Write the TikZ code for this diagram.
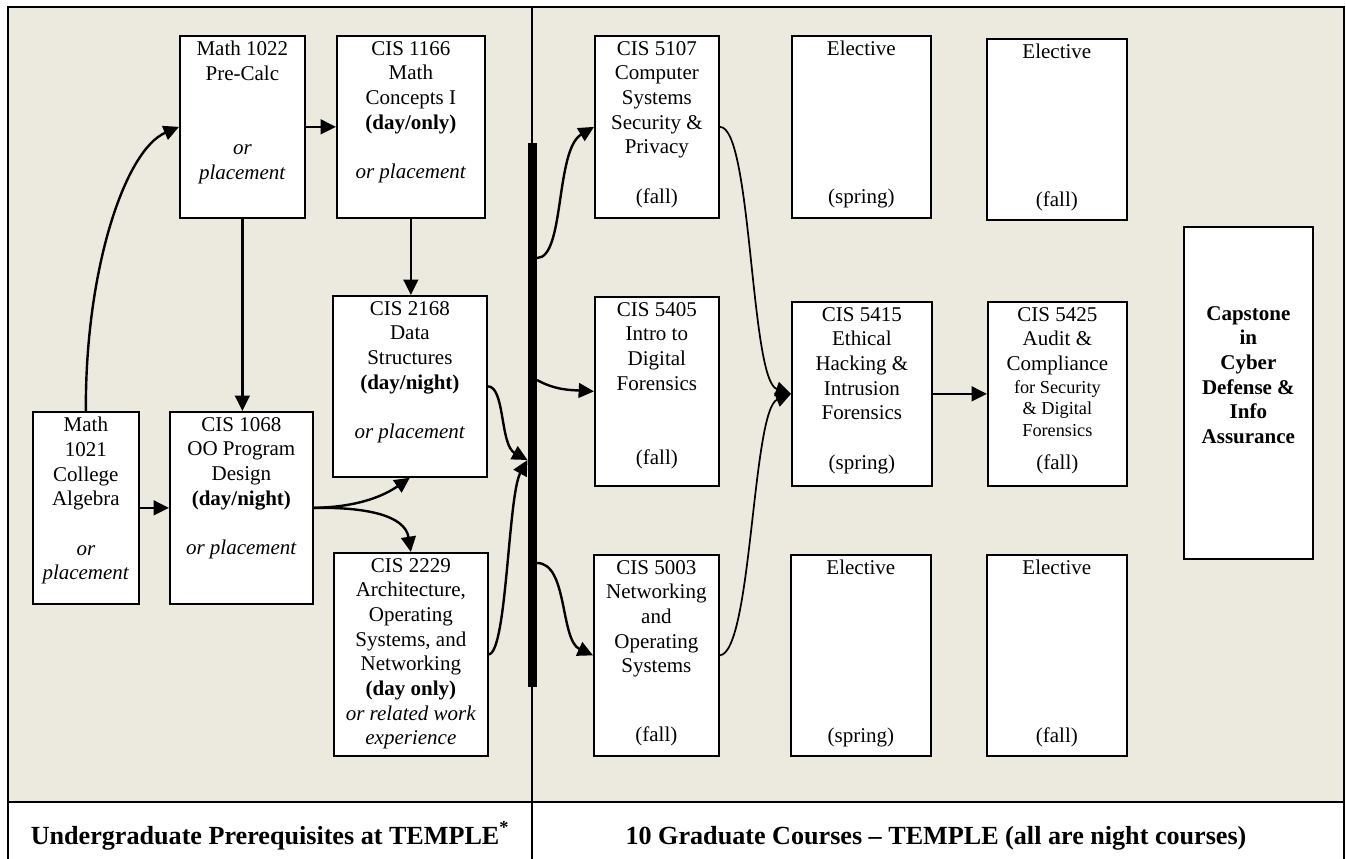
\documentclass[tikz,border=0pt]{standalone}
\usepackage{fontspec}
\setmainfont{Liberation Serif}
\usetikzlibrary{arrows.meta,calc}
\definecolor{bgbeige}{RGB}{236,233,222}
\tikzset{
  box/.style={draw=black, fill=white, line width=1.3pt, inner sep=0pt, anchor=north west},
  txt/.style={align=center, inner sep=0pt, font=\fontsize{15.75}{18.5}\selectfont},
  lbl/.style={inner sep=0pt, font=\fontsize{19.6}{23}\selectfont\bfseries},
  arr/.style={line width=1.8pt, -{Triangle[length=11.5pt,width=11pt]}},
  arrthin/.style={line width=1.3pt, -{Triangle[length=11.5pt,width=11pt]}},
  framel/.style={line width=1.5pt},
}
\newcommand{\course}[6]{%
  \node[box, minimum width={(#4-#2)*0.75pt}, minimum height={(#5-#3)*0.75pt}] (#1) at (#2,#3) {};
  \node[txt, anchor=north] (#1t) at ($(#1.north)+(0,6)$) {#6};
}
\begin{document}
\begin{tikzpicture}[x=0.75pt,y=-0.75pt]
\useasboundingbox (0,0) rectangle (1346,859);
\fill[bgbeige] (7.5,7.5) rectangle (1343.5,802);
\draw[framel] (7.5,859) -- (7.5,7.5) -- (1343.5,7.5) -- (1343.5,859);
\draw[line width=1.2pt] (7.5,802) -- (1343.5,802);
\draw[line width=1.2pt] (532,7.5) -- (532,859);

% undergraduate courses
\course{m1021}{32}{411}{138}{603}{Math\\1021\\College\\Algebra\\[18.5pt]\textit{or}\\\textit{placement}}
\course{c1068}{169}{411}{312}{603}{CIS 1068\\OO Program\\Design\\\textbf{(day/night)}\\[18.5pt]\textit{or placement}}
\course{m1022}{179}{35}{304}{217}{Math 1022\\Pre-Calc\\[37pt]\textit{or}\\\textit{placement}}
\course{c1166}{336}{35}{484}{217}{CIS 1166\\Math\\Concepts I\\\textbf{(day/only)}\\[18.5pt]\textit{or placement}}
\course{c2168}{332}{295}{486}{476}{CIS 2168\\Data\\Structures\\\textbf{(day/night)}\\[18.5pt]\textit{or placement}}
\course{c2229}{333}{552}{487}{755}{CIS 2229\\Architecture,\\Operating\\Systems, and\\Networking\\\textbf{(day only)}\\\textit{or related work}\\\textit{experience}}

% graduate courses
\course{c5107}{594}{35}{718}{217}{CIS 5107\\Computer\\Systems\\Security \&\\Privacy\\[18.5pt](fall)}
\course{e1}{791}{35}{930}{217}{Elective\\[92.5pt](spring)}
\course{e2}{986}{38}{1126}{219}{Elective\\[92.5pt](fall)}
\course{c5405}{594}{296}{718}{485}{CIS 5405\\Intro to\\Digital\\Forensics\\[37pt](fall)}
\course{c5415}{791}{301}{931}{485}{CIS 5415\\Ethical\\Hacking \&\\Intrusion\\Forensics\\[18.5pt](spring)}
\course{c5425}{987}{301}{1126}{485}{CIS 5425\\Audit \&\\Compliance\\[-1.3pt]\fontsize{13.7}{16}\selectfont for Security\\[-2.4pt]\fontsize{13.7}{16}\selectfont \& Digital\\[-2.4pt]\fontsize{13.7}{16}\selectfont Forensics\\[6.3pt](fall)}
\course{c5003}{593}{554}{718}{755}{CIS 5003\\Networking\\and\\Operating\\Systems\\[33pt](fall)}
\course{e3}{790}{554}{930}{755}{Elective\\[107.5pt](spring)}
\course{e4}{986}{554}{1126}{755}{Elective\\[107.5pt](fall)}

% capstone
\node[box, minimum width={129*0.75pt}, minimum height={332*0.75pt}] (cap) at (1183,226) {};
\node[txt, anchor=north, font=\fontsize{15.75}{18.5}\selectfont\bfseries] (capt) at ($(cap.north)+(0,80)$) {Capstone\\in\\Cyber\\Defense \&\\Info\\Assurance};

% thick bar
\node[fill=black, inner sep=0pt, minimum width=7.1pt, minimum height=408pt, anchor=north west] (bar) at (527.5,143) {};
\coordinate (bin) at (527.5,460);
\coordinate (bo1) at (537,258);
\coordinate (bo2) at (537,380);
\coordinate (bo3) at (537,563);

% connectors
\draw[arr] (m1021.north) .. controls (85,270) and (125,150) .. (m1022.west);
\draw[arr] (m1021.east) -- (c1068.west);
\draw[arr] (m1022.south) -- (m1022.south |- c1068.north);
\draw[arr] (m1022.east) -- (c1166.west);
\draw[arr] (c1166.south) -- (c1166.south |- c2168.north);
\draw[arr] (c1068.east) .. controls (360,507) and (385,495) .. (c2168.south);
\draw[arr] (c1068.east) .. controls (365,507) and (405,515) .. (c2229.north);
\draw[arr] (c2168.east) .. controls (505,386) and (500,445) .. (bin);
\draw[arr] (c2229.east) .. controls (507,653) and (508,495) .. (bin);
\draw[arr] (bo1) .. controls (565,258) and (555,150) .. (c5107.west);
\draw[arr] (bo2) .. controls (555,390) and (570,390) .. (c5405.west);
\draw[arr] (bo3) .. controls (568,563) and (560,640) .. (c5003.west);
\draw[arrthin] (c5107.east) .. controls (752,126) and (750,380) .. (c5415.west);
\draw[arrthin] (c5003.east) .. controls (752,653) and (752,410) .. (c5415.west);
\draw[arr] (c5415.east) -- (c5425.west);

% bottom labels
\node[lbl, anchor=base] (ulab) at (270,844) {Undergraduate Prerequisites at TEMPLE\textsuperscript{*}};
\node[lbl, anchor=base] (glab) at (936,844) {10 Graduate Courses -- TEMPLE (all are night courses)};
\end{tikzpicture}
\end{document}
